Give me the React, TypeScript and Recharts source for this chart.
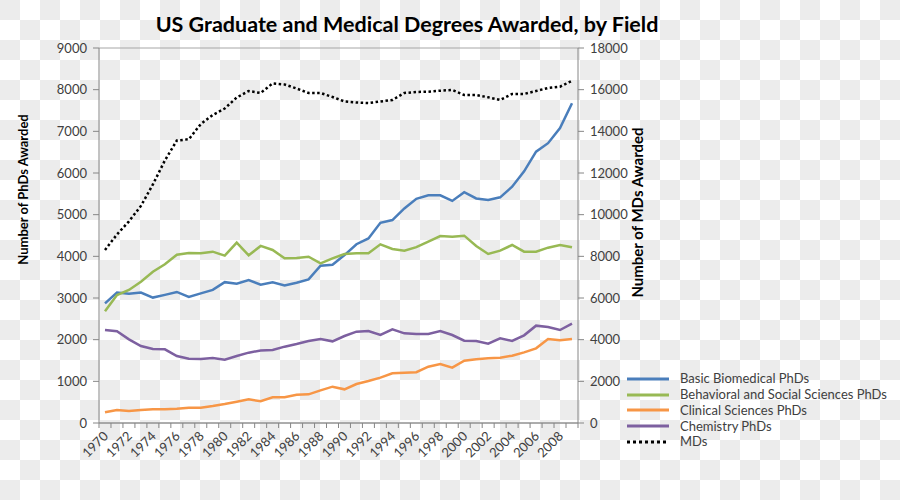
import React from "react";
import { LineChart, Line, XAxis, YAxis, CartesianGrid, Legend, Label } from "recharts";

const years = [
  1970, 1971, 1972, 1973, 1974, 1975, 1976, 1977, 1978, 1979,
  1980, 1981, 1982, 1983, 1984, 1985, 1986, 1987, 1988, 1989,
  1990, 1991, 1992, 1993, 1994, 1995, 1996, 1997, 1998, 1999,
  2000, 2001, 2002, 2003, 2004, 2005, 2006, 2007, 2008, 2009,
];

const basicBiomedical = [
  2870, 3130, 3100, 3130, 3010, 3075, 3145, 3025, 3110, 3195,
  3380, 3345, 3432, 3320, 3378, 3300, 3368, 3448, 3776, 3800,
  4030, 4290, 4430, 4805, 4870, 5150, 5380, 5464, 5464, 5330,
  5540, 5390, 5355, 5416, 5670, 6040, 6512, 6715, 7080, 7675,
];

const behavioralSocial = [
  2680, 3072, 3192, 3392, 3632, 3808, 4040, 4080, 4072, 4112,
  4016, 4328, 4024, 4250, 4152, 3952, 3960, 3992, 3832, 3952,
  4056, 4072, 4072, 4288, 4176, 4136, 4220, 4352, 4488, 4472,
  4496, 4248, 4056, 4136, 4272, 4112, 4112, 4208, 4272, 4216,
];

const clinicalSciences = [
  256, 312, 288, 312, 328, 328, 344, 368, 368, 408,
  456, 512, 568, 524, 616, 616, 680, 688, 784, 872,
  808, 936, 1008, 1088, 1192, 1208, 1220, 1352, 1416, 1328,
  1496, 1528, 1552, 1568, 1616, 1696, 1792, 2016, 1984, 2016,
];

const chemistry = [
  2232, 2200, 2008, 1848, 1776, 1768, 1608, 1544, 1536, 1560,
  1520, 1608, 1688, 1740, 1752, 1832, 1896, 1968, 2016, 1960,
  2088, 2192, 2208, 2112, 2248, 2152, 2136, 2136, 2208, 2112,
  1976, 1968, 1904, 2032, 1968, 2104, 2336, 2304, 2232, 2384,
];

const mds = [
  8304, 9050, 9680, 10420, 11450, 12600, 13560, 13620, 14350, 14784,
  15096, 15624, 15936, 15840, 16300, 16250, 16056, 15840, 15840, 15648,
  15432, 15384, 15360, 15432, 15504, 15840, 15888, 15904, 15950, 15984,
  15744, 15744, 15634, 15504, 15792, 15792, 15936, 16080, 16142, 16430,
];

const leftTicks = [0, 1000, 2000, 3000, 4000, 5000, 6000, 7000, 8000, 9000];
const rightTicks = [0, 2000, 4000, 6000, 8000, 10000, 12000, 14000, 16000, 18000];

const seriesNames = [
  "Basic Biomedical PhDs",
  "Behavioral and Social Sciences PhDs",
  "Clinical Sciences PhDs",
  "Chemistry PhDs",
  "MDs",
];

const data = years.map((y, i) => ({
  year: y,
  basic: basicBiomedical[i],
  behav: behavioralSocial[i],
  clinical: clinicalSciences[i],
  chem: chemistry[i],
  md: mds[i],
}));

const FONT = "Lato, 'Open Sans', sans-serif";
const COLORS = ["#4A7EBB", "#98B954", "#F79646", "#7D60A0", "#000000"];

const XTick = (props: any) => {
  const { x, y, payload, index } = props;
  const yr = Number(payload.value);
  const half = 6;
  return (
    <g>
      <line x1={x - half} y1={y} x2={x - half} y2={y + 5} stroke="#868686" strokeWidth={1} />
      {index === years.length - 1 ? (
        <line x1={x + half} y1={y} x2={x + half} y2={y + 5} stroke="#868686" strokeWidth={1} />
      ) : null}
      {yr % 2 === 0 ? (
        <text
          x={x + 4}
          y={y + 14}
          textAnchor="end"
          transform={`rotate(-45, ${x + 4}, ${y + 14})`}
          fill="#404040"
          fontSize={13}
          fontFamily={FONT}
        >
          {yr}
        </text>
      ) : null}
    </g>
  );
};

const LegendContent = () => (
  <div style={{ fontFamily: FONT, fontSize: 13, color: "#404040" }}>
    {seriesNames.map((name, i) => (
      <div key={name} style={{ display: "flex", alignItems: "center", height: 15.75 }}>
        <svg width={42} height={6} style={{ display: "block" }}>
          <line
            x1={0}
            y1={3}
            x2={42}
            y2={3}
            stroke={COLORS[i]}
            strokeWidth={3}
            strokeDasharray={i === 4 ? "3 3" : undefined}
          />
        </svg>
        <span style={{ marginLeft: 11, whiteSpace: "nowrap", lineHeight: "15px" }}>{name}</span>
      </div>
    ))}
  </div>
);

const LeftLabel = (props: any) => {
  const vb = props.viewBox || {};
  const cx = (vb.x || 0) + 23;
  const cy = (vb.y || 0) + vb.height / 2 - 46;
  return (
    <text
      x={cx}
      y={cy}
      transform={`rotate(-90, ${cx}, ${cy})`}
      textAnchor="middle"
      dominantBaseline="central"
      fontWeight="bold"
      fontSize={13}
      fontFamily={FONT}
      fill="#000"
    >
      Number of PhDs Awarded
    </text>
  );
};

const RightLabel = (props: any) => {
  const vb = props.viewBox || {};
  const cx = (vb.x || 0) + 59;
  const cy = (vb.y || 0) + vb.height / 2 - 23;
  return (
    <text
      x={cx}
      y={cy}
      transform={`rotate(-90, ${cx}, ${cy})`}
      textAnchor="middle"
      dominantBaseline="central"
      fontWeight="bold"
      fontSize={15}
      fontFamily={FONT}
      fill="#000"
    >
      Number of MDs Awarded
    </text>
  );
};

export default function App() {
  return (
    <div
      style={{
        position: "absolute",
        left: 0,
        top: 0,
        width: 900,
        height: 500,
        backgroundColor: "#ffffff",
        backgroundImage: "conic-gradient(#ffffff 0 25%, #ececec 0 50%, #ffffff 0 75%, #ececec 0)",
        backgroundSize: "40px 40px",
        overflow: "hidden",
      }}
    >
      <div
        style={{
          position: "absolute",
          left: 407,
          top: 11,
          transform: "translateX(-50%)",
          whiteSpace: "nowrap",
          fontFamily: FONT,
          fontWeight: "bold",
          fontSize: 21.5,
          color: "#000",
          lineHeight: "26px",
        }}
      >
        US Graduate and Medical Degrees Awarded, by Field
      </div>
      <LineChart
        width={900}
        height={500}
        data={data}
        margin={{ top: 48, right: 0, bottom: 0, left: 0 }}
        style={{ position: "absolute", left: 0, top: 0 }}
      >
        <CartesianGrid horizontal={true} vertical={false} stroke="#a6a6a6" strokeWidth={1} />
        <XAxis
          dataKey="year"
          type="category"
          interval={0}
          padding={{ left: 6, right: 6 }}
          height={77}
          tickLine={false}
          tickSize={0}
          tickMargin={0}
          axisLine={{ stroke: "#868686" }}
          tick={<XTick />}
        />
        <YAxis
          yAxisId="left"
          orientation="left"
          width={99}
          domain={[0, 9000]}
          ticks={leftTicks}
          interval={0}
          tickSize={6}
          tickMargin={6}
          axisLine={{ stroke: "#868686" }}
          tickLine={{ stroke: "#868686" }}
          tick={{ fill: "#404040", fontSize: 13, fontFamily: FONT }}
        >
          <Label content={<LeftLabel />} />
        </YAxis>
        <YAxis
          yAxisId="right"
          orientation="right"
          width={322}
          domain={[0, 18000]}
          ticks={rightTicks}
          interval={0}
          tickSize={6}
          tickMargin={6}
          axisLine={{ stroke: "#868686" }}
          tickLine={{ stroke: "#868686" }}
          tick={{ fill: "#404040", fontSize: 13, fontFamily: FONT }}
        >
          <Label content={<RightLabel />} />
        </YAxis>
        <Legend
          layout="vertical"
          align="center"
          verticalAlign="middle"
          content={<LegendContent />}
          wrapperStyle={{ left: 627, top: 371, width: 270, height: 82 }}
        />
        <Line yAxisId="left" type="linear" dataKey="basic" name={seriesNames[0]} stroke={COLORS[0]} strokeWidth={2.5} dot={false} isAnimationActive={false} />
        <Line yAxisId="left" type="linear" dataKey="behav" name={seriesNames[1]} stroke={COLORS[1]} strokeWidth={2.5} dot={false} isAnimationActive={false} />
        <Line yAxisId="left" type="linear" dataKey="clinical" name={seriesNames[2]} stroke={COLORS[2]} strokeWidth={2.5} dot={false} isAnimationActive={false} />
        <Line yAxisId="left" type="linear" dataKey="chem" name={seriesNames[3]} stroke={COLORS[3]} strokeWidth={2.5} dot={false} isAnimationActive={false} />
        <Line yAxisId="right" type="linear" dataKey="md" name={seriesNames[4]} stroke={COLORS[4]} strokeWidth={2.5} strokeDasharray="2.5 2.5" dot={false} isAnimationActive={false} />
      </LineChart>
    </div>
  );
}
